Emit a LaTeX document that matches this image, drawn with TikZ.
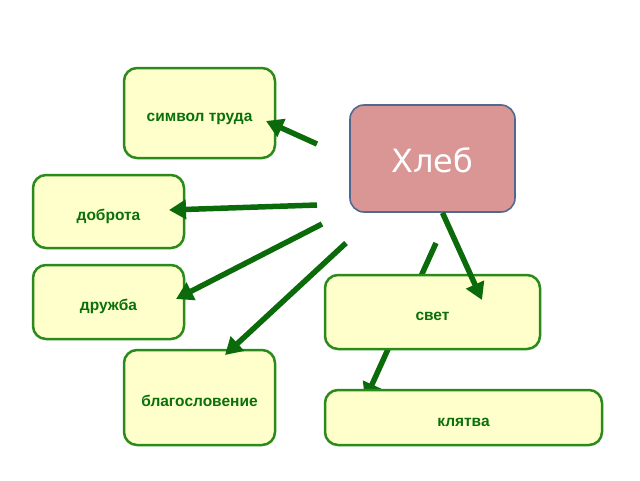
\documentclass[tikz,border=0pt]{standalone}
\usepackage{fontspec}
\setmainfont{Liberation Sans}
\newfontfamily\titlefont{DejaVu Sans}
\usetikzlibrary{arrows.meta}
\definecolor{boxfill}{HTML}{FFFFCC}
\definecolor{boxline}{HTML}{2A8A1A}
\definecolor{arrowgreen}{HTML}{0B6B0B}
\definecolor{txtgreen}{HTML}{0A700A}
\definecolor{breadfill}{HTML}{D99694}
\definecolor{breadline}{HTML}{52698F}
\tikzset{
  wordbox/.style={draw=boxline, fill=boxfill, line width=2.5pt, rounded corners=13pt,
    font=\bfseries\fontsize{15.5}{18}\selectfont, text=txtgreen, inner sep=0pt,
    text height=17pt, text depth=0pt},
  breadbox/.style={draw=breadline, fill=breadfill, line width=1.6pt, rounded corners=14pt,
    font=\titlefont\fontsize{32}{36}\selectfont, text=white, inner sep=0pt,
    text height=28pt, text depth=0pt},
  link/.style={draw=arrowgreen, line width=5.5pt, -{Triangle[length=17pt,width=19pt]}}
}
\begin{document}
\begin{tikzpicture}[x=1pt,y=-1pt]
\useasboundingbox (0,0) rectangle (640,480);
% coordinates for free arrow ends
\coordinate (s1) at (317,144);
\coordinate (s2) at (317,205);
\coordinate (s3) at (322,224);
\coordinate (s4) at (346,243);
\coordinate (s6) at (436,243);
\coordinate (e1) at (266,121);
\coordinate (e2) at (169,210);
\coordinate (e3) at (176,299);
\coordinate (e4) at (225,355);
\coordinate (e5) at (482,300);
\coordinate (e6) at (365,400);
% line passing behind "свет"
\draw[link] (s6) -- (e6);
% boxes
\node[wordbox, minimum width=151pt, minimum height=90pt] (trud) at (199.5,113) {символ труда};
\node[wordbox, minimum width=151pt, minimum height=73pt] (dobr) at (108.5,211.5) {доброта};
\node[wordbox, minimum width=151pt, minimum height=74pt] (druzh) at (108.5,302) {дружба};
\node[wordbox, minimum width=215pt, minimum height=74pt] (svet) at (432.5,312) {свет};
\node[wordbox, minimum width=151pt, minimum height=95pt] (blag) at (199.5,397.5) {благословение};
\node[wordbox, minimum width=277pt, minimum height=55pt] (klyat) at (463.5,417.5) {клятва};
\node[breadbox, minimum width=165pt, minimum height=107pt] (hleb) at (432.5,158.5) {Хлеб};
% arrows
\draw[link] (s1) -- (e1);
\draw[link] (s2) -- (e2);
\draw[link] (s3) -- (e3);
\draw[link] (s4) -- (e4);
\draw[link] (hleb.south) ++(10,0) coordinate (h5) -- (e5);
\end{tikzpicture}
\end{document}
